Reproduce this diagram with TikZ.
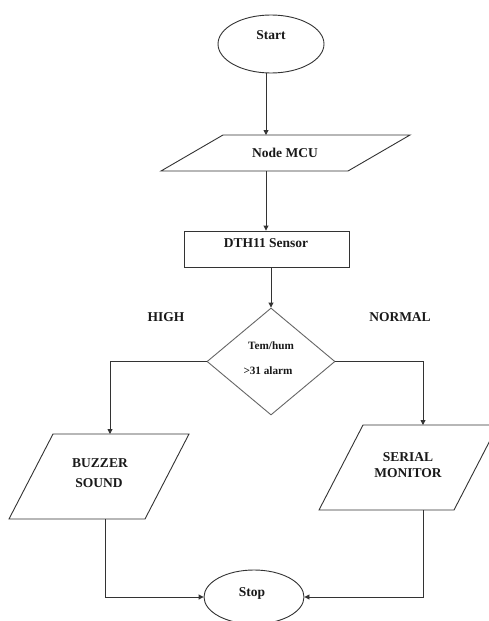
\documentclass[tikz,border=0pt]{standalone}
\usepackage{fontspec}
\setmainfont{Liberation Serif}
\usetikzlibrary{shapes.geometric,arrows.meta}
\begin{document}
\begin{tikzpicture}[x=1pt,y=-1pt,
  line width=0.9pt,
  ln/.style={draw=black!80},
  arr/.style={ln,-{Triangle[length=5pt,width=5pt]}},
  txt/.style={font=\fontsize{13.5}{16}\selectfont\bfseries,anchor=base,inner sep=0pt,text=black!90},
  stxt/.style={font=\fontsize{11.2}{13}\selectfont\bfseries,anchor=base,inner sep=0pt,text=black!90}
]
\useasboundingbox (0,0) rectangle (489,621);
\clip (0,0) rectangle (489,621);
\fill[white] (0,0) rectangle (489,621);

% shapes
\node[ellipse,draw=black!80,minimum width=106pt,minimum height=58pt,inner sep=0pt] (start) at (271,44) {};
% Node MCU parallelogram
\draw[ln] (161,171) -- (348,171) -- (410,135) -- (223,135) -- cycle;
\coordinate (mcuN) at (266,135);
\coordinate (mcuS) at (266,171);
\node[rectangle,draw=black!80,minimum width=165pt,minimum height=36pt,inner sep=0pt] (dth) at (266.5,249) {};
\node[diamond,draw=black!60,minimum width=128pt,minimum height=107pt,inner sep=0pt] (dia) at (271,361.5) {};
% Buzzer parallelogram
\draw[ln] (9,519) -- (145,519) -- (189,434) -- (53,434) -- cycle;
\coordinate (buzzN) at (110,434);
\coordinate (buzzS) at (105,519);
% Serial monitor parallelogram
\draw[ln] (319,510) -- (454,510) -- (498,425) -- (363,425) -- cycle;
\coordinate (serN) at (423,425);
\coordinate (serS) at (423,510);
\node[ellipse,draw=black!80,minimum width=100pt,minimum height=54pt,inner sep=0pt] (stop) at (254,597) {};

% texts
\node[txt] (tstart) at (271,39.5) {Start};
\node[txt] (tmcu) at (285,157.5) {Node MCU};
\node[txt] (tdth) at (266,247.5) {DTH11 Sensor};
\node[txt] (thigh) at (166,321.5) {HIGH};
\node[txt] (tnormal) at (400,321.5) {NORMAL};
\node[stxt] (tdia1) at (271,349) {Tem/hum};
\node[stxt] (tdia2) at (268,374.7) {>31 alarm};
\node[txt] (tbuzz1) at (100,467.5) {BUZZER};
\node[txt] (tbuzz2) at (99,487.5) {SOUND};
\node[txt] (tser1) at (408,461.5) {SERIAL};
\node[txt] (tser2) at (408,477.5) {MONITOR};
\node[txt] (tstop) at (252,596) {Stop};

% connectors
\draw[arr] ([xshift=-5pt]start.south) -- (mcuN);
\draw[arr] (mcuS) -- (mcuS |- dth.north);
\draw[arr] (dth.south -| dia.north) -- (dia.north);
\draw[arr] (dia.west) -| (buzzN);
\draw[arr] (dia.east) -| (serN);
\draw[arr] (buzzS) |- (stop.west);
\draw[arr] (serS) |- (stop.east);
\end{tikzpicture}
\end{document}
